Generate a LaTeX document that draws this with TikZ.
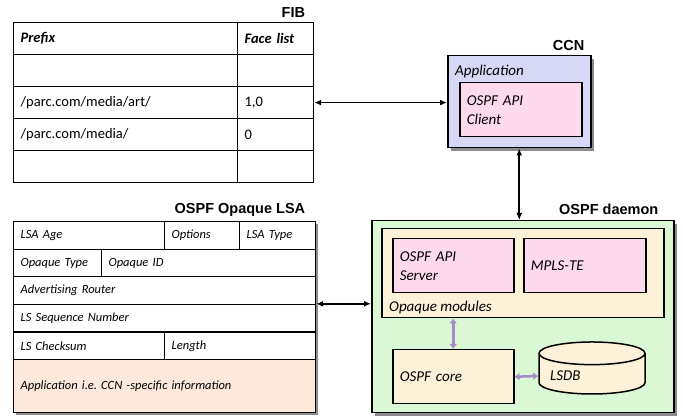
\documentclass[tikz,border=0pt]{standalone}
\usepackage{fontspec}
\setmainfont{Carlito}
\newfontfamily\titlefont{Liberation Sans}
\usetikzlibrary{arrows.meta,positioning,shapes.geometric,shadows}
\frenchspacing

\definecolor{ccnblue}{HTML}{D6D8F5}
\definecolor{apipink}{HTML}{FCD9EC}
\definecolor{daemongreen}{HTML}{DAF8D4}
\definecolor{modbeige}{HTML}{FDF1D8}
\definecolor{infopeach}{HTML}{FDE9DC}
\definecolor{linkpurple}{HTML}{A68CC6}

\begin{document}
\begin{tikzpicture}[
  x=1pt, y=-1pt,
  cell/.style={draw, line width=1.2pt, anchor=north west, align=left, inner xsep=7pt, inner ysep=0pt},
  fibcell/.style={cell, minimum height=32pt, font=\fontsize{14.5}{16}\selectfont},
  lsacell/.style={cell, minimum height=27.6pt, font=\itshape\fontsize{12.5}{14}\selectfont},
  box/.style={draw, line width=1.5pt, anchor=north west, align=left, inner xsep=7pt, font=\itshape\fontsize{15}{19}\selectfont},
  shade/.style={drop shadow={shadow xshift=3pt, shadow yshift=-3pt, fill=black, opacity=0.45}},
  title/.style={font=\titlefont\bfseries\fontsize{14.5}{16}\selectfont, inner sep=1pt, anchor=south east},
  arrow/.style={{Latex[length=7pt,width=6pt]}-{Latex[length=7pt,width=6pt]}, line width=1.6pt},
  link/.style={{Latex[length=5pt,width=8pt]}-{Latex[length=5pt,width=8pt]}, line width=2.5pt, linkpurple}
]
\useasboundingbox (0,0) rectangle (683,419);

% FIB table
\node[fibcell, text width=210pt] (fibh1) at (13,22) {\textbf{\textit{Prefix}}};
\node[fibcell, text width=62pt, label={[title, xshift=-8pt, yshift=3pt]north east:FIB}] (fibh2) at (237,22) {\textbf{\textit{Face list}}};
\node[fibcell, text width=210pt] (fib1a) at (13,54) {};
\node[fibcell, text width=62pt] (fib1b) at (237,54) {};
\node[fibcell, text width=210pt] (fib2a) at (13,86) {/parc.com/media/art/};
\node[fibcell, text width=62pt] (fib2b) at (237,86) {1,0};
\node[fibcell, text width=210pt] (fib3a) at (13,118) {/parc.com/media/};
\node[fibcell, text width=62pt] (fib3b) at (237,118) {0};
\node[fibcell, text width=210pt] (fib4a) at (13,150) {};
\node[fibcell, text width=62pt] (fib4b) at (237,150) {};

% OSPF Opaque LSA
\node[draw, anchor=north west, fill=white, shade, minimum width=302pt, minimum height=191pt,
  label={[title, xshift=-9pt, yshift=3pt]north east:OSPF Opaque LSA}] (lsa) at (13,221) {};
\node[lsacell, text width=137pt] (age) at (13,221) {LSA Age};
\node[lsacell, text width=61pt] (options) at (164,221) {Options};
\node[lsacell, text width=62pt] (lsatype) at (239,221) {LSA Type};
\node[lsacell, text width=74pt] (opqtype) at (13,248.6) {Opaque Type};
\node[lsacell, text width=200pt] (opqid) at (101,248.6) {Opaque ID};
\node[lsacell, text width=288pt] (advrouter) at (13,276.2) {Advertising Router};
\node[lsacell, text width=288pt] (seqnum) at (13,303.8) {LS Sequence Number};
\node[lsacell, text width=137pt] (checksum) at (13,331.4) {LS Checksum};
\node[lsacell, text width=137pt] (length) at (164,331.4) {Length};
\node[lsacell, text width=288pt, minimum height=53pt, fill=infopeach] (appinfo) at (13,359) {Application i.e. CCN -specific information};

% CCN
\node[box, fill=ccnblue, shade, minimum width=143pt, minimum height=92pt,
  label={[font=\itshape\fontsize{15}{19}\selectfont, anchor=north west, inner sep=2pt, xshift=6pt, yshift=-8pt]north west:Application},
  label={[title, xshift=-6pt, yshift=3pt]north east:CCN}] (ccn) at (447,55) {};
\node[box, fill=apipink, text width=108pt, minimum height=54pt] (client) at (459,82) {OSPF API\\Client};

% OSPF daemon
\node[box, fill=daemongreen, shade, minimum width=302pt, minimum height=192pt,
  label={[title, xshift=-15pt, yshift=4pt]north east:OSPF daemon}] (daemon) at (371,220) {};
\node[box, fill=modbeige, minimum width=282pt, minimum height=89pt,
  label={[font=\itshape\fontsize{15}{19}\selectfont, anchor=south west, inner sep=2pt, xshift=6pt, yshift=2pt]south west:Opaque modules}] (opaque) at (381,228) {};
\node[box, fill=apipink, text width=107pt, minimum height=54pt] (server) at (392,238) {OSPF API\\Server};
\node[box, fill=apipink, text width=108pt, minimum height=54pt] (mpls) at (523,238) {MPLS-TE};
\node[box, fill=modbeige, text width=107pt, minimum height=54pt] (core) at (392,349) {OSPF core};
\node[draw, line width=1.5pt, fill=modbeige, cylinder, shape border rotate=90, aspect=0.25,
  minimum width=106pt, minimum height=52pt, align=left, text width=84pt,
  font=\itshape\fontsize{15}{19}\selectfont] (lsdb) at (592,376) {LSDB};

\draw[arrow] (fib2b.east) -- (ccn.west |- fib2b.east);
\draw[arrow] (ccn.south) -- (ccn.south |- daemon.north);
\draw[arrow] (seqnum.north east) -- (seqnum.north east -| daemon.west);
\draw[link] (core.north) -- (core.north |- opaque.south);
\draw[link] (core.east) -- (lsdb.west);
\end{tikzpicture}
\end{document}
